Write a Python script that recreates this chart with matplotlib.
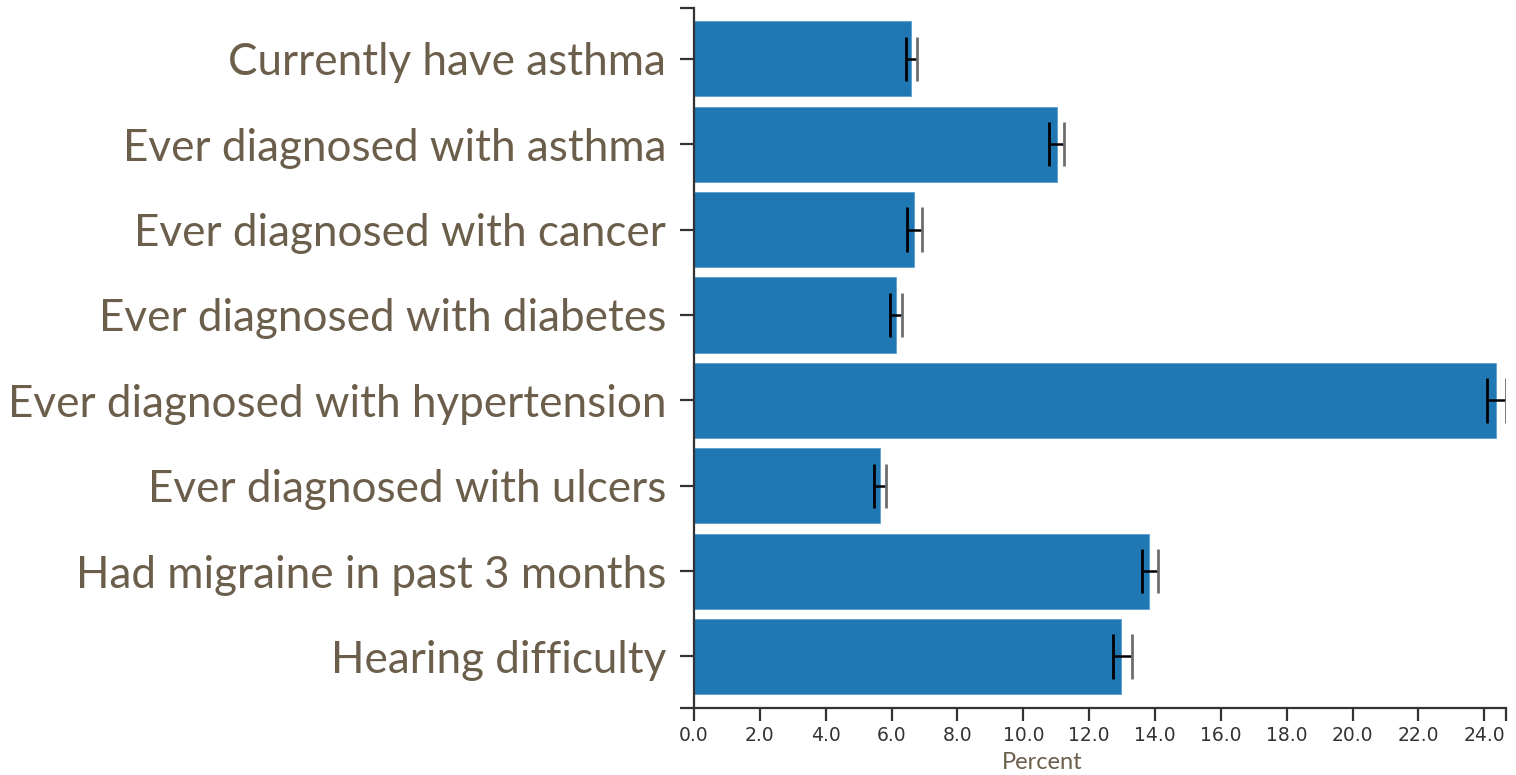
import numpy as np
import matplotlib
matplotlib.use("Agg")
from matplotlib import pyplot as plt

# prevalence estimates (percent) with 95% confidence limits
conditions = [
    "Currently have asthma",
    "Ever diagnosed with asthma",
    "Ever diagnosed with cancer",
    "Ever diagnosed with diabetes",
    "Ever diagnosed with hypertension",
    "Ever diagnosed with ulcers",
    "Had migraine in past 3 months",
    "Hearing difficulty",
]
percent = [6.6, 11.02, 6.68, 6.12, 24.37, 5.64, 13.82, 12.97]
ci_low = [6.45, 10.78, 6.48, 5.95, 24.07, 5.47, 13.61, 12.73]
ci_high = [6.76, 11.23, 6.91, 6.32, 24.66, 5.84, 14.08, 13.30]
xticks = [0, 2, 4, 6, 8, 10, 12, 14, 16, 18, 20, 22, 24]

label_color = "#6b5e4a"
axis_color = "#333333"

fig = plt.figure(figsize=(15.16, 7.75), dpi=100)
ax = fig.add_axes([0.4578, 0.0868, 0.9934 - 0.4578, 0.9903 - 0.0868])

y = np.arange(len(conditions))
ax.barh(y, percent, height=0.88, color="#1f77b4", edgecolor="#5a9fd0", linewidth=0.6, zorder=2)

# confidence interval whiskers
cap = 0.26
ax.hlines(y, ci_low, ci_high, color="black", linewidth=1.8, zorder=3)
ax.vlines(ci_low, y - cap, y + cap, color="black", linewidth=2.0, zorder=3)
ax.vlines(ci_high, y - cap, y + cap, color="#6e6e6e", linewidth=2.0, zorder=3)

xmax = max(ci_high)
ax.set_xlim(0, xmax)
ax.set_ylim(7.6, -0.6)

ax.set_yticks(y)
ax.set_yticklabels(conditions, fontsize=31.7, color=label_color, family="Lato")
ax.set_yticks([-0.6, 7.6], minor=True)

ax.set_xticks(xticks)
ax.set_xticklabels([f"{v:.1f}" for v in xticks], fontsize=13.5, color=axis_color,
                   family="DejaVu Sans")
ax.set_xticks([xmax], minor=True)

for s in ["top", "right"]:
    ax.spines[s].set_visible(False)
for s in ["left", "bottom"]:
    ax.spines[s].set_color(axis_color)
    ax.spines[s].set_linewidth(1.6)

ax.tick_params(axis="y", which="both", length=10, width=1.6, color=axis_color, pad=10)
ax.tick_params(axis="x", which="both", length=9, width=1.6, color=axis_color, pad=4)

ax.text(0.4286, -0.0875, "Percent", transform=ax.transAxes, ha="center", va="baseline",
        fontsize=17, color=label_color, family="Lato")

fig.savefig("out.png", dpi=100)
